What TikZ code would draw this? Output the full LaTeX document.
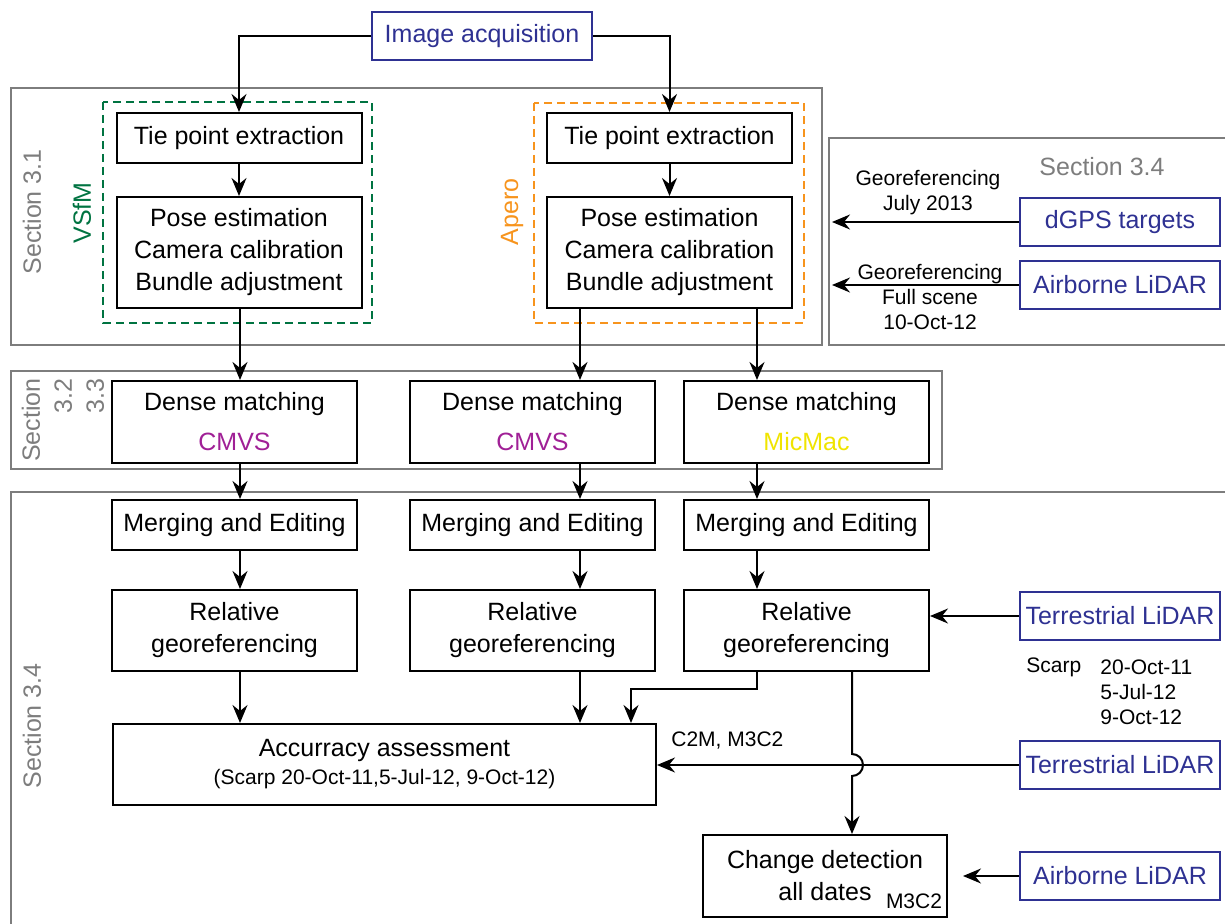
\documentclass[tikz,border=0pt]{standalone}
\usepackage{fontspec}
\setmainfont{Liberation Sans}
\usetikzlibrary{arrows.meta, positioning, calc}

\definecolor{srcblue}{RGB}{46,49,146}
\definecolor{secgray}{RGB}{125,125,125}
\definecolor{vsfmgreen}{RGB}{0,115,65}
\definecolor{aperoorange}{RGB}{247,148,29}
\definecolor{cmvspurple}{RGB}{160,32,150}
\definecolor{micmacyellow}{RGB}{240,228,0}

\newcommand\mainfs{\fontsize{12.5}{16}\selectfont}
\newcommand\smallfs{\fontsize{10.5}{12.5}\selectfont}

\begin{document}
\begin{tikzpicture}[
    x=0.5pt, y=-0.5pt,
    box/.style={draw=black, line width=1pt, align=center, inner sep=2pt, font=\mainfs, minimum width=122.5pt},
    srcbox/.style={draw=srcblue, text=srcblue, line width=1pt, font=\mainfs, minimum width=100pt, minimum height=24pt, inner sep=2pt},
    secframe/.style={draw=secgray, line width=1pt},
    seclabel/.style={text=secgray, font=\mainfs, rotate=90, align=right, inner sep=1pt},
    toolframe/.style={line width=1pt, dash pattern=on 4pt off 2.5pt},
    toollabel/.style={font=\mainfs, rotate=90, inner sep=1pt},
    note/.style={font=\smallfs, align=center, inner sep=1pt},
    arr/.style={line width=1pt, -{Stealth[length=9pt, width=7.5pt, inset=3pt]}}
]
\useasboundingbox (0,0) rectangle (1225,924);
\clip (0,0) rectangle (1225,924);

% column lines for the off-centre arrows
\coordinate (c1) at (240,0);
\coordinate (c2) at (580,0);
\coordinate (c3) at (757,0);
\coordinate (c4) at (631,0);
\coordinate (c5) at (852,0);
\coordinate (e34) at (832,0);
\coordinate (stop) at (963,0);

%=== Section frames ===
\draw[secframe] (11,88) rectangle (822,345);
\draw[secframe] (829,138) rectangle (1240,345);
\draw[secframe] (11,371) rectangle (942,469);
\draw[secframe] (11,492) rectangle (1240,940);

\node[seclabel] (s31) at (32,212) {Section 3.1};
\node[seclabel] (s323) at (63,420) {Section\\3.2\\3.3};
\node[seclabel] (s34) at (32,726) {Section 3.4};
\node[text=secgray, font=\mainfs] (s34r) at (1102,167) {Section 3.4};

%=== Section 3.1: orientation ===
\draw[toolframe, draw=vsfmgreen] (103,102) rectangle (372,323);
\draw[toolframe, draw=aperoorange] (534,103) rectangle (804,323);
\node[toollabel, text=vsfmgreen] (vsfm) at (82,213) {VSfM};
\node[toollabel, text=aperoorange] (apero) at (512,212) {Apero};

\node[srcbox, minimum width=110pt] (acq) at (482,36) {Image acquisition};

\node[box, minimum height=25pt] (tie1) at (239,138) {Tie point extraction};
\node[box, minimum height=55.5pt] (pose1) at (239,252.5) {Pose estimation\\Camera calibration\\Bundle adjustment};
\node[box, minimum height=25pt] (tie2) at (669.5,138) {Tie point extraction};
\node[box, minimum height=55.5pt] (pose2) at (669.5,252.5) {Pose estimation\\Camera calibration\\Bundle adjustment};

\draw[arr] (acq.west) -| (tie1.north);
\draw[arr] (acq.east) -| (tie2.north);
\draw[arr] (tie1) -- (pose1);
\draw[arr] (tie2) -- (pose2);

% georeferencing sources
\node[srcbox] (dgps) at (1120,222) {dGPS targets};
\node[srcbox] (als1) at (1120,285) {Airborne LiDAR};
\draw[arr] (dgps.west) -- (dgps.west -| e34);
\draw[arr] (als1.west) -- (als1.west -| e34);
\node[note] (geo1) at (928,193) {Georeferencing\\July 2013};
\node[note] (geo2) at (930,297) {Georeferencing\\Full scene\\10-Oct-12};

%=== Section 3.2 / 3.3: dense matching ===
\node[box, minimum height=41pt] (dense1) at (234.5,422) {Dense matching\\[4pt]\textcolor{cmvspurple}{CMVS}};
\node[box, minimum height=41pt] (dense2) at (532.5,422) {Dense matching\\[4pt]\textcolor{cmvspurple}{CMVS}};
\node[box, minimum height=41pt] (dense3) at (806.5,422) {Dense matching\\[4pt]\textcolor{micmacyellow}{MicMac}};

\draw[arr] (pose1.south -| c1) -- (dense1.north -| c1);
\draw[arr] (pose2.south -| c2) -- (dense2.north -| c2);
\draw[arr] (pose2.south -| c3) -- (dense3.north -| c3);

%=== Section 3.4: merging, georeferencing, comparison ===
\node[box, minimum height=25pt] (merge1) at (234.5,525) {Merging and Editing};
\node[box, minimum height=25pt] (merge2) at (532.5,525) {Merging and Editing};
\node[box, minimum height=25pt] (merge3) at (806.5,525) {Merging and Editing};

\node[box, minimum height=40.5pt] (rel1) at (234.5,630.5) {Relative\\georeferencing};
\node[box, minimum height=40.5pt] (rel2) at (532.5,630.5) {Relative\\georeferencing};
\node[box, minimum height=40.5pt] (rel3) at (806.5,630.5) {Relative\\georeferencing};

\node[box, minimum width=271.5pt, minimum height=40.5pt] (acc) at (384.5,764.5)
    {Accurracy assessment\\[-2pt]{\smallfs (Scarp 20-Oct-11,5-Jul-12, 9-Oct-12)}};
\node[box, minimum width=122pt, minimum height=41pt] (chg) at (825,876) {Change detection\\all dates};
\node[note] (m3c2) at (914,901) {M3C2};

\foreach \i/\c in {1/c1, 2/c2, 3/c3} {
    \draw[arr] (dense\i.south -| \c) -- (merge\i.north -| \c);
    \draw[arr] (merge\i.south -| \c) -- (rel\i.north -| \c);
}
\draw[arr] (rel1.south -| c1) -- (acc.north -| c1);
\draw[arr] (rel2.south -| c2) -- (acc.north -| c2);
\draw[arr] (rel3.south -| c3) -- ++(0,17) -| (acc.north -| c4);

% reference scans
\node[srcbox] (tls1) at (1120,616) {Terrestrial LiDAR};
\node[srcbox] (tls2) at (1120,765) {Terrestrial LiDAR};
\node[srcbox] (als2) at (1120,876) {Airborne LiDAR};

\draw[arr] (tls1.west) -- (tls1.west -| rel3.east);
\draw[arr] (tls2.west) -- (tls2.west -| acc.east);
\draw[arr] (als2.west) -- (als2.west -| stop);

% line to change detection hops over the TLS arrow
\draw[arr] (rel3.south -| c5) -- ($(c5 |- tls2.west)+(0,-11)$)
    arc[start angle=90, end angle=-90, radius=5.5pt] -- (chg.north -| c5);

\node[note, anchor=west] (scarp) at (1024,667) {Scarp};
\node[note, align=left, anchor=north west] (dates) at (1098,657) {20-Oct-11\\5-Jul-12\\9-Oct-12};
\node[note, anchor=west] (c2m) at (669,741) {C2M, M3C2};

\end{tikzpicture}
\end{document}
